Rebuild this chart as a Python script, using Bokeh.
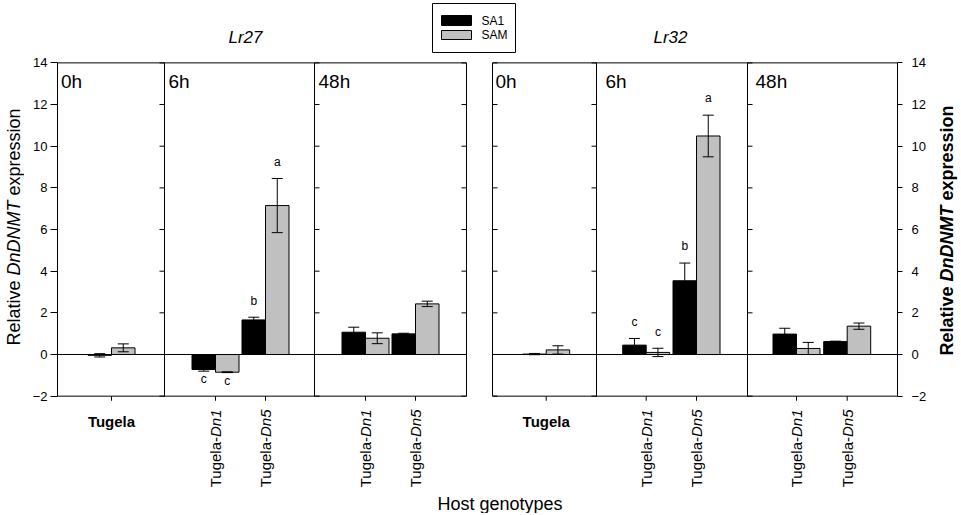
import numpy as np
from bokeh.plotting import figure
from bokeh.layouts import row
from bokeh.models import Range1d, LinearAxis, FixedTicker
from bokeh.core.properties import value
from bokeh.embed import file_html
from bokeh.resources import INLINE

# ---------------- data ----------------
genotypes = ["Tugela", "Tugela-Dn1", "Tugela-Dn5", "Tugela-Dn1", "Tugela-Dn5"]
timepoints = ["0h", "6h", "6h", "48h", "48h"]
time_labels = ["0h", "6h", "48h"]
series_names = ["SA1", "SAM"]
isolates = ["Lr27", "Lr32"]

lr27_sa1 = [-0.04, -0.72, 1.66, 1.07, 0.99]
lr27_sa1_err = [0.08, 0.08, 0.13, 0.24, 0.03]
lr27_sam = [0.32, -0.85, 7.15, 0.78, 2.43]
lr27_sam_err = [0.19, 0.02, 1.30, 0.26, 0.13]
lr27_sa1_letters = ["", "c", "b", "", ""]
lr27_sam_letters = ["", "c", "a", "", ""]

lr32_sa1 = [0.02, 0.45, 3.54, 0.98, 0.62]
lr32_sa1_err = [0.03, 0.32, 0.85, 0.28, 0.02]
lr32_sam = [0.22, 0.10, 10.49, 0.29, 1.36]
lr32_sam_err = [0.20, 0.20, 1.00, 0.29, 0.15]
lr32_sa1_letters = ["", "c", "b", "", ""]
lr32_sam_letters = ["", "c", "a", "", ""]

y_ticks = [-2, 0, 2, 4, 6, 8, 10, 12, 14]
y_label_parts = ["Relative", "DnDNMT", "expression"]
x_label = "Host genotypes"

# ---------------- layout helpers ----------------
H = 513
LEFT_W = 24
MAIN_W = 906
RIGHT_W = 28
MB = 33
PXX, PXY = 50.0, 20.83
X0_REF, Y0_REF = 57.0, 354.0
FONT = "Liberation Sans"


def fx(rx):
    return (rx - X0_REF) / PXX


def fy(ry):
    return (Y0_REF - ry) / PXY


def strip(x_left, width):
    f = figure(width=width, height=H, output_backend="svg", toolbar_location=None,
               title=None, x_axis_location=None, y_axis_location=None,
               x_range=Range1d(fx(x_left), fx(x_left + width)),
               y_range=Range1d(fy(H), fy(0)),
               min_border_left=0, min_border_right=0,
               min_border_top=0, min_border_bottom=0)
    f.outline_line_color = None
    f.background_fill_color = "white"
    f.border_fill_color = "white"
    for g in f.grid:
        g.visible = False
    return f


panels = [
    dict(start=fx(57), end=fx(466), div=[fx(164), fx(314)],
         cats=[fx(111), fx(215), fx(265), fx(365), fx(415)],
         title_x=fx(245), time_x=[fx(60.5), fx(168), fx(318)],
         inner_ticks=[(fx(164), -1), (fx(314), 1), (fx(466), -1)],
         sa1=lr27_sa1, sa1e=lr27_sa1_err, sam=lr27_sam, same=lr27_sam_err,
         la=lr27_sa1_letters, lb=lr27_sam_letters),
    dict(start=fx(492), end=fx(897), div=[fx(596), fx(747)],
         cats=[fx(545.7), fx(645.7), fx(696), fx(796), fx(846.7)],
         title_x=fx(670), time_x=[fx(495), fx(605), fx(755)],
         inner_ticks=[(fx(492), 1), (fx(596), -1), (fx(747), 1)],
         sa1=lr32_sa1, sa1e=lr32_sa1_err, sam=lr32_sam, same=lr32_sam_err,
         la=lr32_sa1_letters, lb=lr32_sam_letters),
]

p = figure(width=MAIN_W, height=H, output_backend="svg", toolbar_location=None,
           title=None, x_axis_location=None, y_axis_location=None,
           x_range=Range1d(fx(LEFT_W + MB), fx(LEFT_W + MAIN_W - MB)),
           y_range=Range1d(fy(H), fy(0)),
           min_border_left=MB, min_border_right=MB,
           min_border_top=0, min_border_bottom=0)
p.outline_line_color = None
p.background_fill_color = "white"
p.border_fill_color = "white"
for g in p.grid:
    g.visible = False

for side, tick_out, standoff in (("left", 7, 3), ("right", 5, 9)):
    ax = LinearAxis(bounds=(-2, 14), ticker=FixedTicker(ticks=y_ticks))
    ax.major_tick_out = tick_out
    ax.major_tick_in = 0
    ax.minor_tick_out = 0
    ax.minor_tick_in = 0
    ax.major_label_standoff = standoff
    ax.major_label_text_font = FONT
    ax.major_label_text_font_size = "13px"
    ax.major_label_text_color = "black"
    ax.axis_line_color = "black"
    ax.major_tick_line_color = "black"
    p.add_layout(ax, side)

BW = 0.47
OFF = 0.235
CAP = 0.11
TL = 0.1   # inner tick length (x units)
XT = 0.22  # x tick length (y units)

for k, pn in enumerate(panels):
    p.quad(left=[pn["start"]], right=[pn["end"]], bottom=[-2], top=[14],
           fill_color=None, line_color="black", line_width=1)
    p.segment(x0=pn["div"], y0=[-2, -2], x1=pn["div"], y1=[14, 14],
              line_color="black", line_width=1)
    p.segment(x0=[pn["start"]], y0=[0], x1=[pn["end"]], y1=[0],
              line_color="black", line_width=1)
    tx0, tx1, ty = [], [], []
    for xpos, d in pn["inner_ticks"]:
        for t in y_ticks:
            tx0.append(xpos)
            tx1.append(xpos + d * TL)
            ty.append(t)
    p.segment(x0=tx0, y0=ty, x1=tx1, y1=ty, line_color="black", line_width=1)
    p.segment(x0=pn["cats"], y0=[-2] * 5, x1=pn["cats"], y1=[-2 - XT] * 5,
              line_color="black", line_width=1)

    cats = np.array(pn["cats"])
    for vals, errs, letters, shift, fill in (
            (pn["sa1"], pn["sa1e"], pn["la"], -OFF, "black"),
            (pn["sam"], pn["same"], pn["lb"], OFF, "#c0c0c0")):
        xs = cats + shift
        v = np.array(vals)
        e = np.array(errs)
        p.vbar(x=xs, width=BW, top=v, bottom=0, fill_color=fill,
               line_color="black", line_width=1)
        p.segment(x0=xs, y0=v - e, x1=xs, y1=v + e, line_color="black", line_width=1)
        p.segment(x0=xs - CAP, y0=v + e, x1=xs + CAP, y1=v + e, line_color="black", line_width=1)
        p.segment(x0=xs - CAP, y0=v - e, x1=xs + CAP, y1=v - e, line_color="black", line_width=1)
        lx, ly, lt = [], [], []
        for i, L in enumerate(letters):
            if not L:
                continue
            lx.append(xs[i])
            ly.append(v[i] + e[i] + 0.8 if v[i] >= 0 else v[i] - e[i] - 0.4)
            lt.append(L)
        p.text(x=lx, y=ly, text=lt, text_font=value(FONT), text_font_size="12px",
               text_align="center", text_baseline="middle", text_color="black")

    p.text(x=pn["time_x"], y=[fy(81)] * 3, text=time_labels, text_font=value(FONT),
           text_font_size="19px", text_align="left", text_baseline="middle",
           text_color="black")
    p.text(x=[pn["title_x"]], y=[fy(37)], text=[isolates[k]], text_font=value(FONT),
           text_font_size="17px", text_font_style="italic", text_align="center",
           text_baseline="middle", text_color="black")
    p.text(x=[pn["cats"][0]], y=[fy(420.5)], text=[genotypes[0]], text_font=value(FONT),
           text_font_size="15px", text_font_style="bold", text_align="center",
           text_baseline="alphabetic", text_color="black")
    suffix = [g.split("-")[1] for g in genotypes[1:]]
    prefix = [g.split("-")[0] + "-" for g in genotypes[1:]]
    top_y = fy(409)
    suf_w = 1.834 * 15 / PXY
    p.text(x=pn["cats"][1:], y=[top_y] * 4, text=suffix, text_font=value(FONT),
           text_font_size="15px", text_font_style="italic", angle=np.pi / 2,
           text_align="right", text_baseline="middle", text_color="black")
    p.text(x=pn["cats"][1:], y=[top_y - suf_w] * 4, text=prefix, text_font=value(FONT),
           text_font_size="15px", angle=np.pi / 2,
           text_align="right", text_baseline="middle", text_color="black")

# legend
p.quad(left=[fx(432)], right=[fx(515)], bottom=[fy(52)], top=[fy(3)],
       fill_color="white", line_color="black", line_width=1)
p.quad(left=[fx(441)] * 2, right=[fx(471)] * 2, bottom=[fy(25), fy(39)], top=[fy(15), fy(30)],
       fill_color=["black", "#c0c0c0"], line_color="black", line_width=1)
p.text(x=[fx(481)] * 2, y=[fy(20.5), fy(34.5)], text=series_names, text_font=value(FONT),
       text_font_size="12px", text_align="left", text_baseline="middle", text_color="black")

# x axis title
p.text(x=[fx(499.5)], y=[fy(503)], text=[x_label], text_font=value(FONT),
       text_font_size="18px", text_align="center", text_baseline="alphabetic",
       text_color="black")

# y axis titles in side strips (left regular, right bold)
left_fig = strip(0, LEFT_W)
right_fig = strip(LEFT_W + MAIN_W, RIGHT_W)
reg_w = [3.612 * 18, 4.166 * 18]
bold_w = [3.835 * 18, 4.221 * 18]
gap = 5
for fig, x_ref, start_ref, widths, weight in ((left_fig, 13, 345, reg_w, "normal"),
                                              (right_fig, 946, 355, bold_w, "bold")):
    starts = [start_ref, start_ref - widths[0] - gap, start_ref - widths[0] - widths[1] - 2 * gap]
    styles = [weight, "italic" if weight == "normal" else "bold italic", weight]
    fig.text(x=[fx(x_ref)] * 3, y=[fy(s) for s in starts], text=y_label_parts,
             angle=np.pi / 2, text_font=value(FONT), text_font_size="18px",
             text_font_style=styles, text_align="left", text_baseline="middle",
             text_color="black")

layout = row(left_fig, p, right_fig)
open("out.html", "w").write(file_html(layout, INLINE))
